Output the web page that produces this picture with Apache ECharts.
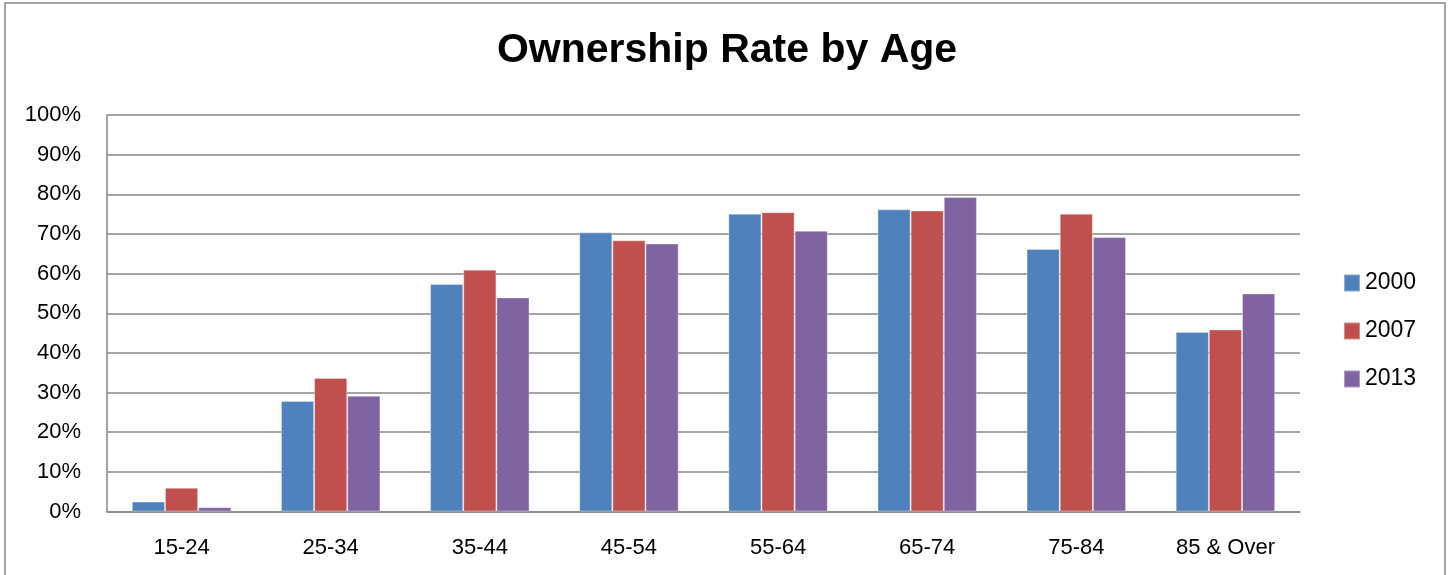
<!DOCTYPE html>
<html>
<head>
<meta charset="utf-8">
<script src="https://cdn.jsdelivr.net/npm/echarts@6/dist/echarts.min.js"></script>
<style>
html,body{margin:0;padding:0;background:#fff;}
#chart{width:1454px;height:575px;}
</style>
</head>
<body>
<div id="chart"></div>
<script>
var categories = ['15-24','25-34','35-44','45-54','55-64','65-74','75-84','85 & Over'];
var seriesNames = ['2000','2007','2013'];
var values2000 = [2.5, 27.9, 57.4, 70.4, 75.1, 76.2, 66.2, 45.3];
var values2007 = [6.0, 33.7, 61.0, 68.4, 75.5, 75.9, 75.1, 45.9];
var values2013 = [1.1, 29.2, 54.0, 67.6, 70.8, 79.3, 69.2, 55.0];
var colors = ['#4F81BD','#C0504D','#8064A2'];
var FONT = '"Liberation Sans", Arial, sans-serif';

var chart = echarts.init(document.getElementById('chart'));
var data = [values2000, values2007, values2013];
chart.setOption({
  animation: false,
  backgroundColor: '#fff',
  color: colors,
  title: {
    text: 'Ownership Rate by Age',
    left: 'center',
    top: 25,
    textStyle: {fontFamily: FONT, fontSize: 41, fontWeight: 'bold', color: '#000'}
  },
  graphic: [{
    type: 'rect',
    shape: {x: 5, y: 3, width: 1440, height: 600},
    style: {fill: 'none', stroke: '#868686', lineWidth: 1.5},
    silent: true
  }],
  legend: {
    orient: 'vertical',
    left: 1343,
    top: 271.5,
    padding: 0,
    itemWidth: 16,
    itemHeight: 17,
    itemGap: 25,
    icon: 'rect',
    textStyle: {fontFamily: FONT, fontSize: 23, color: '#000'},
    data: seriesNames
  },
  grid: {left: 107, right: 154, top: 115, bottom: 63.5, containLabel: false},
  xAxis: {
    type: 'category',
    data: categories,
    axisLine: {lineStyle: {color: '#868686', width: 1.5}},
    axisTick: {show: false},
    axisLabel: {fontFamily: FONT, fontSize: 22, color: '#000', margin: 25}
  },
  yAxis: {
    type: 'value',
    min: 0, max: 100, interval: 10,
    axisLine: {show: true, lineStyle: {color: '#868686', width: 1.5}},
    axisTick: {show: false},
    splitLine: {lineStyle: {color: '#868686', width: 1.5}},
    axisLabel: {fontFamily: FONT, fontSize: 22, color: '#000', margin: 26, formatter: '{value}%'}
  },
  series: seriesNames.map(function(n, i){
    return {
      name: n, type: 'bar', data: data[i],
      barGap: '0%', barCategoryGap: '33.3%',
      itemStyle: {color: colors[i], borderColor: 'rgba(255,255,255,0.35)', borderWidth: 1}
    };
  })
});
</script>
</body>
</html>
